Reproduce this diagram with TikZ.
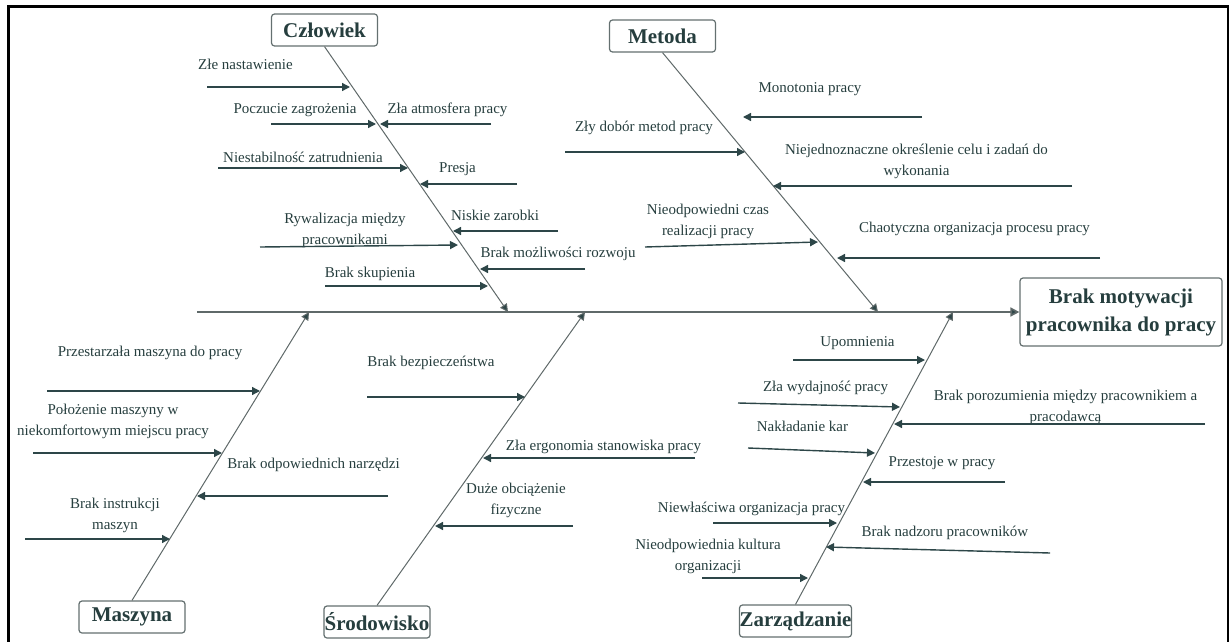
\documentclass[tikz,border=0pt]{standalone}
\usepackage{fontspec}
\setmainfont{Liberation Serif}
\usetikzlibrary{arrows.meta}
\definecolor{txtc}{RGB}{38,62,62}
\definecolor{ribc}{RGB}{45,70,72}
\definecolor{bonec}{RGB}{95,105,105}
\definecolor{boxc}{RGB}{100,112,112}
\begin{document}
\begin{tikzpicture}[x=0.5pt,y=-0.5pt,
  lbl/.style={inner sep=0pt,text=txtc,font=\fontsize{7.5}{10.5}\selectfont,align=center},
  cat/.style={draw=boxc,line width=0.6pt,rounded corners=1.5pt,fill=white,text=txtc,align=center,
    font=\fontsize{10.5}{14}\selectfont\bfseries,inner sep=0pt,minimum width=53pt,minimum height=16pt},
  rib/.style={draw=ribc,line width=0.7pt,-{Triangle[length=4pt,width=4pt]}},
  bone/.style={draw=bonec,line width=0.5pt,-{Triangle[length=4pt,width=4pt,fill=ribc]}},
  spine/.style={draw=bonec,line width=0.8pt,-{Triangle[length=4.5pt,width=4.5pt,fill=ribc]}}]
\useasboundingbox (0,0) rectangle (1231,642);
% frame
\draw[line width=1.3pt,black] (8.5,645) -- (8.5,6.5) -- (1228,6.5) -- (1228,645);

% boxes
\node[cat] (czl) at (324.5,30) {Człowiek};
\node[cat] (met) at (662.5,36) {Metoda};
\node[cat] (mas) at (132,617) {Maszyna};
\node[cat] (sro) at (377,622) {Środowisko};
\node[cat] (zar) at (795.5,621) {Zarządzanie};
\node[cat,minimum width=101pt,minimum height=34pt] (eff) at (1121,312) {Brak motywacji\\pracownika do pracy};

% spine and bones
\coordinate (sp0) at (197,312);
\coordinate (bc) at (508,312);
\coordinate (bm) at (878,312);
\coordinate (bma) at (309,312);
\coordinate (bs) at (585,312);
\coordinate (bz) at (953,312);
\draw[spine] (sp0) -- (eff.west);
\draw[bone] (czl.south) -- (bc);
\draw[bone] (met.south) -- (bm);
\draw[bone] (mas.north) -- (bma);
\draw[bone] (sro.north) -- (bs);
\draw[bone] (zar.north) -- (bz);

% Czlowiek
\node[lbl] (tc1) at (245.5,64) {Złe nastawienie};
\node[lbl] (tc2) at (295,110) {Poczucie zagrożenia};
\node[lbl] (tc3) at (447.5,110) {Zła atmosfera pracy};
\node[lbl] (tc4) at (303,157) {Niestabilność zatrudnienia};
\node[lbl] (tc5) at (457.5,169) {Presja};
\node[lbl] (tc6) at (495,215) {Niskie zarobki};
\node[lbl] (tc7) at (345,230) {Rywalizacja między\\pracownikami};
\node[lbl] (tc8) at (558,254) {Brak możliwości rozwoju};
\node[lbl] (tc9) at (370,274) {Brak skupienia};
\draw[rib] (207,87) coordinate (c1s) -- (350,87) coordinate (c1e);
\draw[rib] (271,124) coordinate (c2s) -- (376,124) coordinate (c2e);
\draw[rib] (491,124) coordinate (c3s) -- (380,124) coordinate (c3e);
\draw[rib] (218,168) coordinate (c4s) -- (408,168) coordinate (c4e);
\draw[rib] (517,184) coordinate (c5s) -- (420,184) coordinate (c5e);
\draw[rib] (558,231) coordinate (c6s) -- (453,231) coordinate (c6e);
\draw[rib] (260,247) coordinate (c7s) -- (458,245) coordinate (c7e);
\draw[rib] (585,269) coordinate (c8s) -- (480,269) coordinate (c8e);
\draw[rib] (325,286) coordinate (c9s) -- (488,286) coordinate (c9e);

% Metoda
\node[lbl] (tm1) at (810,89) {Monotonia pracy};
\node[lbl] (tm2) at (644,128) {Zły dobór metod pracy};
\node[lbl] (tm3) at (916.5,161.5) {Niejednoznaczne określenie celu i zadań do\\wykonania};
\node[lbl] (tm4) at (708,221.5) {Nieodpowiedni czas\\realizacji pracy};
\node[lbl] (tm5) at (974.5,229) {Chaotyczna organizacja procesu pracy};
\draw[rib] (922,117) coordinate (m1s) -- (743,117) coordinate (m1e);
\draw[rib] (565,152) coordinate (m2s) -- (745,152) coordinate (m2e);
\draw[rib] (1072,186) coordinate (m3s) -- (773,186) coordinate (m3e);
\draw[rib] (645,247) coordinate (m4s) -- (818,242) coordinate (m4e);
\draw[rib] (1100,258) coordinate (m5s) -- (837,258) coordinate (m5e);

% Maszyna
\node[lbl] (ta1) at (150,353) {Przestarzała maszyna do pracy};
\node[lbl] (ta2) at (113,421) {Położenie maszyny w\\niekomfortowym miejscu pracy};
\node[lbl] (ta3) at (313.5,465) {Brak odpowiednich narzędzi};
\node[lbl] (ta4) at (115,515) {Brak instrukcji\\maszyn};
\draw[rib] (47,391) coordinate (a1s) -- (260,391) coordinate (a1e);
\draw[rib] (33,453) coordinate (a2s) -- (222,453) coordinate (a2e);
\draw[rib] (388,496) coordinate (a3s) -- (197,496) coordinate (a3e);
\draw[rib] (25,539) coordinate (a4s) -- (170,539) coordinate (a4e);

% Srodowisko
\node[lbl] (ts1) at (431,363) {Brak bezpieczeństwa};
\node[lbl] (ts2) at (603.5,447) {Zła ergonomia stanowiska pracy};
\node[lbl] (ts3) at (516,500) {Duże obciążenie\\fizyczne};
\draw[rib] (367,397) coordinate (s1s) -- (525,397) coordinate (s1e);
\draw[rib] (695,458) coordinate (s2s) -- (483,458) coordinate (s2e);
\draw[rib] (573,526) coordinate (s3s) -- (435,526) coordinate (s3e);

% Zarzadzanie
\node[lbl] (tz1) at (857.5,343) {Upomnienia};
\node[lbl] (tz2) at (825.5,388) {Zła wydajność pracy};
\node[lbl] (tz3) at (802.5,426) {Nakładanie kar};
\node[lbl] (tz4) at (1065.5,407) {Brak porozumienia między pracownikiem a\\pracodawcą};
\node[lbl] (tz5) at (942,463) {Przestoje w pracy};
\node[lbl] (tz6) at (751.5,509) {Niewłaściwa organizacja pracy};
\node[lbl] (tz7) at (945,533) {Brak nadzoru pracowników};
\node[lbl] (tz8) at (708,556) {Nieodpowiednia kultura\\organizacji};
\draw[rib] (793,360) coordinate (z1s) -- (925,360) coordinate (z1e);
\draw[rib] (738,403) coordinate (z2s) -- (900,407) coordinate (z2e);
\draw[rib] (748,448) coordinate (z3s) -- (875,453) coordinate (z3e);
\draw[rib] (1205,424) coordinate (z4s) -- (894,424) coordinate (z4e);
\draw[rib] (1005,482) coordinate (z5s) -- (863,482) coordinate (z5e);
\draw[rib] (713,523) coordinate (z6s) -- (837,523) coordinate (z6e);
\draw[rib] (1050,553) coordinate (z7s) -- (826,547) coordinate (z7e);
\draw[rib] (702,578) coordinate (z8s) -- (808,578) coordinate (z8e);
\end{tikzpicture}
\end{document}
